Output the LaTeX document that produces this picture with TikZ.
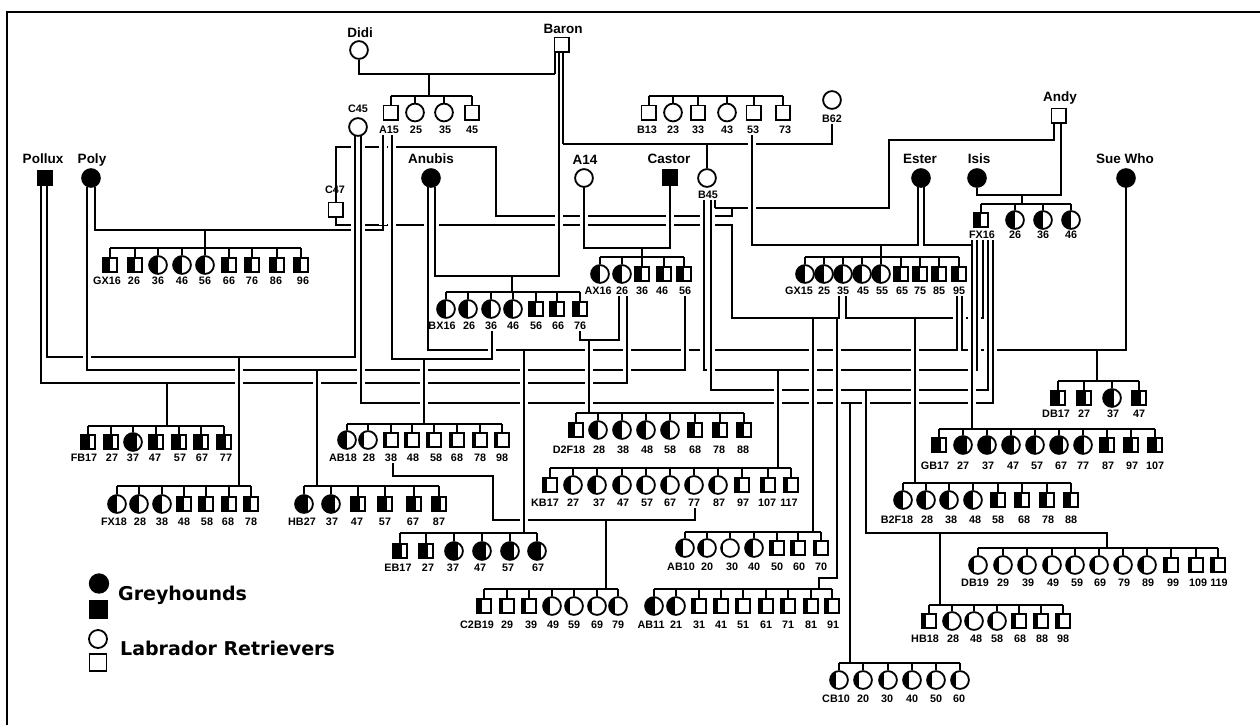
\documentclass[tikz,border=0pt]{standalone}
\usepackage{fontspec}
\setmainfont{Liberation Sans}
\newfontfamily\legfont{DejaVu Sans}
\usetikzlibrary{calc}
\pgfdeclarelayer{fg}
\pgfsetlayers{main,fg}
\newcommand\kids[4]{%
  \foreach \i/\x/\ty/\f/\lab/\lx in {#4}{%
    \ifnum\ty=0\relax
      \node[fem=\f] (#1-\i) at (\x,#2) {};%
    \else
      \node[mal=\f] (#1-\i) at (\x,#2) {};%
    \fi
    \node[num] (l#1-\i) at (\lx,#3) {\lab};%
  }}
\newcommand\sib[4]{%
  \coordinate (#1-b) at (#3,#4);%
  \draw[ln] (#1-1.north |- #1-b) -- (#1-#2.north |- #1-b);%
  \foreach \i in {1,...,#2}{\draw[ln] (#1-\i.north) -- (#1-\i.north |- #1-b);}%
}
\newcommand\vlist{%
\VV{555}{52}{74}\VV{559}{52}{276}\VV{563}{52}{144}\VV{435}{187}{276}%
\VV{584}{187}{248}\VV{670}{186}{248}\VV{1061}{123}{195}\VV{1054}{123}{140}%
\VV{889}{140}{208}\VV{335.5}{147}{202}\VV{496}{147}{216}\RR{732}{208}{216}%
\VV{732}{225}{318}\VV{813}{318}{532}\VV{837}{318}{578}\VV{383}{136}{230}%
\VV{87}{187}{370}\VV{95}{187}{230}\VV{685}{296}{370}\VV{317}{370}{486}%
\VV{46.5}{186}{357}\VV{40.5}{186}{383}\VV{355}{136}{357}\VV{239}{357}{486}%
\VV{627}{296}{383}\VV{619}{296}{340}\VV{167}{383}{426}\VV{361}{136}{403}%
\VV{993}{240}{403}\VV{850}{403}{663}\VV{392}{136}{359}\VV{492}{333}{359}%
\VV{424}{359}{424}\VV{428}{187}{350}\VV{957}{296}{350}\VV{962}{296}{350}%
\VV{1126}{187}{350}\VV{524}{350}{533}\VV{1097}{350}{381}\VV{589}{340}{413}%
\VV{704}{200}{370}\VV{711}{200}{390}\RR{715}{200}{208}\VV{977}{240}{370}%
\VV{778}{370}{468}\VV{988}{240}{390}\VV{866}{390}{533}\VV{983}{240}{318}%
\VV{915}{318}{483}\VV{752}{135}{245}\VV{918}{187}{245}\VV{924}{187}{245}%
\RR{972}{240}{245}\VV{972}{245}{429}}
\begin{document}
\begin{tikzpicture}[x=1pt,y=-1pt,
 ln/.style={line width=2pt},
 halo/.style={draw=white,line width=8pt,shorten <=5pt,shorten >=5pt},
 fillpart/.style={path picture={\fill[black] (path picture bounding box.south west) rectangle ($(path picture bounding box.north west)!#1!(path picture bounding box.north east)$);}},
 fem/.style={circle,draw,line width=1.8pt,minimum size=17.8pt,inner sep=0pt,fillpart=#1},
 fem/.default=0,
 mal/.style={rectangle,draw,line width=1.8pt,minimum size=14.2pt,inner sep=0pt,fillpart=#1},
 mal/.default=0,
 num/.style={font=\bfseries\fontsize{10.8}{12}\selectfont,inner sep=1pt},
 nam/.style={font=\bfseries\fontsize{13.5}{15}\selectfont,inner sep=0pt,anchor=base},
 leg/.style={font=\legfont\bfseries\fontsize{19}{21}\selectfont,inner sep=0pt,anchor=base west},
]
\useasboundingbox (0,0) rectangle (1260,724);
\fill[white] (0,0) rectangle (1260,724);
\begin{pgfonlayer}{fg}
% founders
\node[fem] (Didi) at (359,50) {};        \node[nam] (lDidi) at (360,37) {Didi};
\node[mal] (Baron) at (561.5,44.5) {};   \node[nam] (lBaron) at (563,33) {Baron};
\node[fem] (C45) at (358,127) {};        \node[num] (lC45) at (358,109) {C45};
\node[mal] (C47) at (335.5,209.5) {};    \node[num] (lC47) at (335,190) {C47};
\node[mal=1] (Pollux) at (44.5,178) {};  \node[nam] (lPollux) at (43,163) {Pollux};
\node[fem=1] (Poly) at (91,178) {};      \node[nam] (lPoly) at (92,163) {Poly};
\node[fem=1] (Anubis) at (431,178) {};   \node[nam] (lAnubis) at (431,163) {Anubis};
\node[fem] (A14) at (584,178) {};        \node[nam] (lA14) at (585,164) {A14};
\node[mal=1,minimum size=15pt] (Castor) at (670,177.5) {}; \node[nam] (lCastor) at (669,163) {Castor};
\node[fem] (B45) at (707,178) {};        \node[num] (lB45) at (708,195) {B45};
\node[fem] (B62) at (832,100) {};        \node[num] (lB62) at (832,119) {B62};
\node[mal] (Andy) at (1058.5,115.5) {};  \node[nam] (lAndy) at (1060,101) {Andy};
\node[fem=1] (Ester) at (921,178) {};    \node[nam] (lEster) at (920,163) {Ester};
\node[fem=1] (Isis) at (977,178) {};     \node[nam] (lIsis) at (979,163) {Isis};
\node[fem=1] (SueWho) at (1126,178) {};  \node[nam] (lSueWho) at (1125,163) {Sue Who};
% litters
\kids{dd}{112.5}{130}{1/390.5/1/0/A15/389, 2/415/0/0/25/416, 3/444/0/0/35/445, 4/472/1/0/45/472}
\kids{bl}{112.5}{130}{1/648.5/1/0/B13/647, 2/673/0/0/23/673, 3/698/1/0/33/698, 4/727/0/0/43/727, 5/753.5/1/0/53/753, 6/783/1/0/73/785}
\kids{fx16}{220}{235}{1/980.5/1/.5/FX16/982, 2/1015/0/.5/26/1015, 3/1043/0/.5/36/1043, 4/1071/0/.5/46/1071}
\kids{gxa}{265}{281}{1/110/1/.5/GX16/107, 2/134.5/1/.5/26/134, 3/158/0/.5/36/158, 4/182/0/.5/46/182, 5/205/0/.5/56/205, 6/229/1/.5/66/229, 7/252/1/.5/76/252, 8/277/1/.5/86/276, 9/301/1/.5/96/303}
\kids{bx}{309}{326}{1/446/0/.5/BX16/442, 2/468/0/.5/26/469, 3/491/0/.5/36/491, 4/513/0/.5/46/513, 5/536/1/.5/56/536, 6/557/1/.5/66/558, 7/580/1/.5/76/580}
\kids{ax}{274}{291}{1/600/0/.5/AX16/598, 2/622/0/.5/26/622, 3/642/1/.5/36/642, 4/664/1/.5/46/662, 5/684/1/.5/56/685}
\kids{gxb}{274}{291}{1/805/0/.5/GX15/799, 2/824/0/.5/25/824, 3/843/0/.5/35/843, 4/862/0/.5/45/863, 5/881/0/.5/55/882, 6/901/1/.5/65/902, 7/920/1/.5/75/920, 8/939/1/.5/85/939, 9/959/1/.5/95/959}
\kids{fb}{442}{458}{1/88/1/.65/FB17/84, 2/111/1/.65/27/112, 3/133/0/.72/37/133, 4/156/1/.65/47/155, 5/179/1/.65/57/180, 6/201/1/.65/67/202, 7/224/1/.65/77/226}
\kids{fxb}{504}{522}{1/117/0/.5/FX18/114, 2/139/0/.5/28/140, 3/162/0/.5/38/162, 4/184/1/.5/48/184, 5/206/1/.5/58/207, 6/229/1/.5/68/228, 7/251/1/.5/78/251}
\kids{hb}{504}{522}{1/304/0/.73/HB27/302, 2/331/0/.73/37/332, 3/358/1/.65/47/357, 4/385/1/.65/57/385, 5/414/1/.65/67/413, 6/439/1/.65/87/439}
\kids{ab18}{440}{458}{1/347/0/.5/AB18/343, 2/368/0/.3/28/369, 3/391/1/.25/38/391, 4/412/1/.25/48/413, 5/434/1/.25/58/436, 6/457/1/.25/68/457, 7/480/1/.25/78/480, 8/502/1/.25/98/502}
\kids{d2}{430}{450}{1/576/1/.45/D2F18/569, 2/598/0/.5/28/599, 3/622/0/.5/38/623, 4/646/0/.5/48/647, 5/670/0/.5/58/670, 6/695/1/.5/68/695, 7/720/1/.5/78/719, 8/744/1/.5/88/743}
\kids{eb}{551}{568}{1/400/1/.65/EB17/398, 2/426/1/.65/27/428, 3/454/0/.75/37/453, 4/482/0/.75/47/480, 5/510/0/.75/57/508, 6/537/0/.75/67/538}
\kids{kb}{485}{503}{1/550/1/.27/KB17/545, 2/573/0/.37/27/573, 3/597/0/.45/37/599, 4/622/0/.4/47/623, 5/646/0/.35/57/647, 6/670/0/.32/67/670, 7/694/0/.27/77/694, 8/718/0/.33/87/719, 9/742/1/.33/97/743, 10/768/1/.27/107/767, 11/791/1/.3/117/789}
\kids{ab10}{548}{567}{1/685/0/.4/AB10/681, 2/707/0/.33/20/707, 3/730/0/.13/30/732, 4/754/0/.45/40/754, 5/777/1/.27/50/777, 6/798/1/.3/60/799, 7/821/1/.25/70/821}
\kids{ab11}{606}{625}{1/654/0/.55/AB11/651, 2/676/0/.45/21/676, 3/699/1/.3/31/699, 4/721/1/.28/41/721, 5/743/1/.25/51/743, 6/766/1/.3/61/766, 7/788/1/.3/71/788, 8/811/1/.3/81/811, 9/832/1/.3/91/833}
\kids{c2}{606}{625}{1/484/1/.33/C2B19/477, 2/507/1/.22/29/507, 3/529/1/.3/39/531, 4/552/0/.38/49/553, 5/574/0/.27/59/574, 6/597/0/.2/69/597, 7/618/0/.33/79/618}
\kids{b2}{500}{520}{1/903/0/.5/B2F18/897, 2/926/0/.5/28/927, 3/949/0/.5/38/951, 4/973/0/.5/48/975, 5/998/1/.5/58/998, 6/1022/1/.5/68/1024, 7/1047/1/.5/78/1048, 8/1071/1/.5/88/1071}
\kids{db19}{565}{583}{1/978/0/.3/DB19/975, 2/1003/0/.3/29/1003, 3/1027/0/.3/39/1028, 4/1052/0/.3/49/1053, 5/1075/0/.25/59/1077, 6/1099/0/.3/69/1100, 7/1123/0/.3/79/1124, 8/1147/0/.35/89/1148, 9/1171/1/.3/99/1173, 10/1196/1/.25/109/1198, 11/1218/1/.3/119/1219}
\kids{hb18}{621}{639}{1/929/1/.3/HB18/925, 2/952/0/.35/28/953, 3/974/0/.2/48/976, 4/997/0/.3/58/997, 5/1019/1/.3/68/1020, 6/1041/1/.3/88/1042, 7/1063/1/.3/98/1063}
\kids{cb}{680}{699}{1/839/0/.35/CB10/836, 2/863/0/.25/20/863, 3/888/0/.3/30/887, 4/912/0/.35/40/912, 5/936/0/.25/50/936, 6/960/0/.3/60/959}
\kids{db17}{398}{414}{1/1058/1/.62/DB17/1056, 2/1084/1/.62/27/1084, 3/1112/0/.6/37/1113, 4/1139/1/.62/47/1139}
\kids{gb}{445}{466}{1/939/1/.65/GB17/935, 2/963/0/.7/27/963, 3/987/0/.7/37/988, 4/1011/0/.65/47/1013, 5/1035/0/.55/57/1037, 6/1059/0/.7/67/1061, 7/1083/0/.55/77/1083, 8/1107/1/.65/87/1108, 9/1131/1/.65/97/1132, 10/1155/1/.65/107/1155}
% legend
\node[fem=1,minimum size=18.5pt] (lgC1) at (99,583.5) {};
\node[mal=1,minimum size=16.5pt] (lgS1) at (98.5,609.5) {};
\node[fem,minimum size=18pt] (lgC2) at (98,639) {};
\node[mal,minimum size=17pt] (lgS2) at (98,662.5) {};
\node[leg] (tG) at (118,600.5) {Greyhounds};
\node[leg] (tL) at (120,655.5) {Labrador Retrievers};
\end{pgfonlayer}
\clip (0,0) rectangle (1260,724);
\draw[line width=1.3pt] (7,12) rectangle (1300,800);
% sibling bars
\sib{dd}{4}{429}{96}
\sib{bl}{6}{700}{96}
\sib{fx16}{4}{1022}{204}
\sib{gxa}{9}{205}{248}
\sib{bx}{7}{512}{292}
\sib{ax}{5}{642}{257}
\sib{gxb}{9}{881}{257}
\sib{fb}{7}{167}{426}
\sib{fxb}{7}{239}{486}
\sib{hb}{6}{317}{486}
\sib{ab18}{8}{424}{424}
\sib{d2}{8}{589}{413}
\sib{eb}{6}{524}{533}
\sib{kb}{11}{778}{468}
\sib{ab10}{7}{813}{532}
\sib{ab11}{9}{819}{589}
\sib{c2}{7}{606}{589}
\sib{b2}{8}{915}{483}
\sib{db19}{11}{1107}{548}
\sib{hb18}{7}{940}{605}
\sib{cb}{6}{850}{663}
\sib{db17}{4}{1097}{381}
\sib{gb}{10}{972}{429}
% matings and drops
\draw[ln] (Didi.south) |- (555,74) -- ([xshift=-6.5pt]Baron.south);
\draw[ln] (429,74) -- (dd-b);
\draw[ln] ([xshift=1.5pt]Baron.south) |- (832,144) -- (lB62.south);
\draw[ln] (707,144) -- (B45.north);
\draw[ln] ([xshift=-2.5pt]Baron.south) |- (435,276) -- ([xshift=4pt]Anubis.south);
\draw[ln] (512,276) -- (bx-b);
\draw[ln] (A14.south) |- (670,248) -- (Castor.south);
\draw[ln] (642,248) -- (ax-b);
\draw[ln] (Isis.south) |- (1061,195) -- ([xshift=2.5pt]Andy.south);
\draw[ln] (1022,195) -- (fx16-b);
\draw[ln] ([xshift=7pt]lB45.south) |- (889,208) |- (1054,140) -- ([xshift=-4.5pt]Andy.south);
\draw[ln] (C47.north) |- (496,147) |- (732,216) -- (732,208);
\draw[ln] (C47.south) |- (732,225) -- (732,318) -| ([xshift=-4pt]lgxb-3.south);
\draw[ln] (813,318) -- (ab10-b);
\draw[ln] (837,318) |- (819,578) -- (ab11-b);
\draw[ln] ([xshift=4pt]Poly.south) |- (383,230) -- ([xshift=-6pt]ldd-1.south);
\draw[ln] (205,230) -- (gxa-b);
\draw[ln] ([xshift=-4pt]Poly.south) |- (685,370) -- (lax-5.south);
\draw[ln] (317,370) -- (hb-b);
\draw[ln] ([xshift=2pt]Pollux.south) |- (355,357) -- ([xshift=-3pt]C45.south);
\draw[ln] (239,357) -- (fxb-b);
\draw[ln] ([xshift=-4pt]Pollux.south) |- (627,383) -- ([xshift=5pt]lax-2.south);
\draw[ln] (167,383) -- (fb-b);
\draw[ln] ([xshift=3pt]C45.south) |- (993,403) -- ([xshift=11pt]lfx16-1.south);
\draw[ln] (850,403) -- (cb-b);
\draw[ln] ([xshift=3pt]ldd-1.south) |- (492,359) -- ([xshift=1pt]lbx-3.south);
\draw[ln] (424,359) -- (ab18-b);
\draw[ln] ([xshift=-3pt]Anubis.south) |- (957,350) -- ([xshift=-2pt]lgxb-9.south);
\draw[ln] (524,350) -- (eb-b);
\draw[ln] ([xshift=3pt]lgxb-9.south) -- (962,350) -| (SueWho.south);
\draw[ln] (1097,350) -- (db17-b);
\draw[ln] (lbx-7.south) |- (619,340) -- ([xshift=-3pt]lax-2.south);
\draw[ln] (589,340) -- (d2-b);
\draw[ln] ([xshift=-4pt]lB45.south) |- (977,370) -- ([xshift=-5pt]lfx16-1.south);
\draw[ln] (778,370) -- (kb-b);
\draw[ln] ([xshift=3pt]lB45.south) |- (988,390) -- ([xshift=6pt]lfx16-1.south);
\draw[ln] (866,390) |- (1107,533) -- (db19-b);
\draw[ln] (940,533) -- (hb18-b);
\draw[ln] ([xshift=3pt]lgxb-3.south) |- (983,318) -- ([xshift=1pt]lfx16-1.south);
\draw[ln] (915,318) -- (b2-b);
\draw[ln] ([xshift=-1pt]lbl-5.south) |- (918,245) -- ([xshift=-3pt]Ester.south);
\draw[ln] (881,245) -- (gxb-b);
\draw[ln] ([xshift=3pt]Ester.south) |- (972,245);
\draw[ln] ([xshift=-10pt]lfx16-1.south) -- (gb-b);
\draw[ln] ([xshift=2pt]lab18-3.south) |- (493,476) |- (695,520) -- ([xshift=1pt]lkb-7.south);
\draw[ln] (606,520) -- (c2-b);
% crossings: break horizontals under verticals
\def\VV#1#2#3{\draw[halo] (#1,#2) -- (#1,#3);}\def\RR#1#2#3{}\vlist
\def\VV#1#2#3{\draw[ln] (#1,#2) -- (#1,#3);}\let\RR\VV\vlist
\end{tikzpicture}
\end{document}
